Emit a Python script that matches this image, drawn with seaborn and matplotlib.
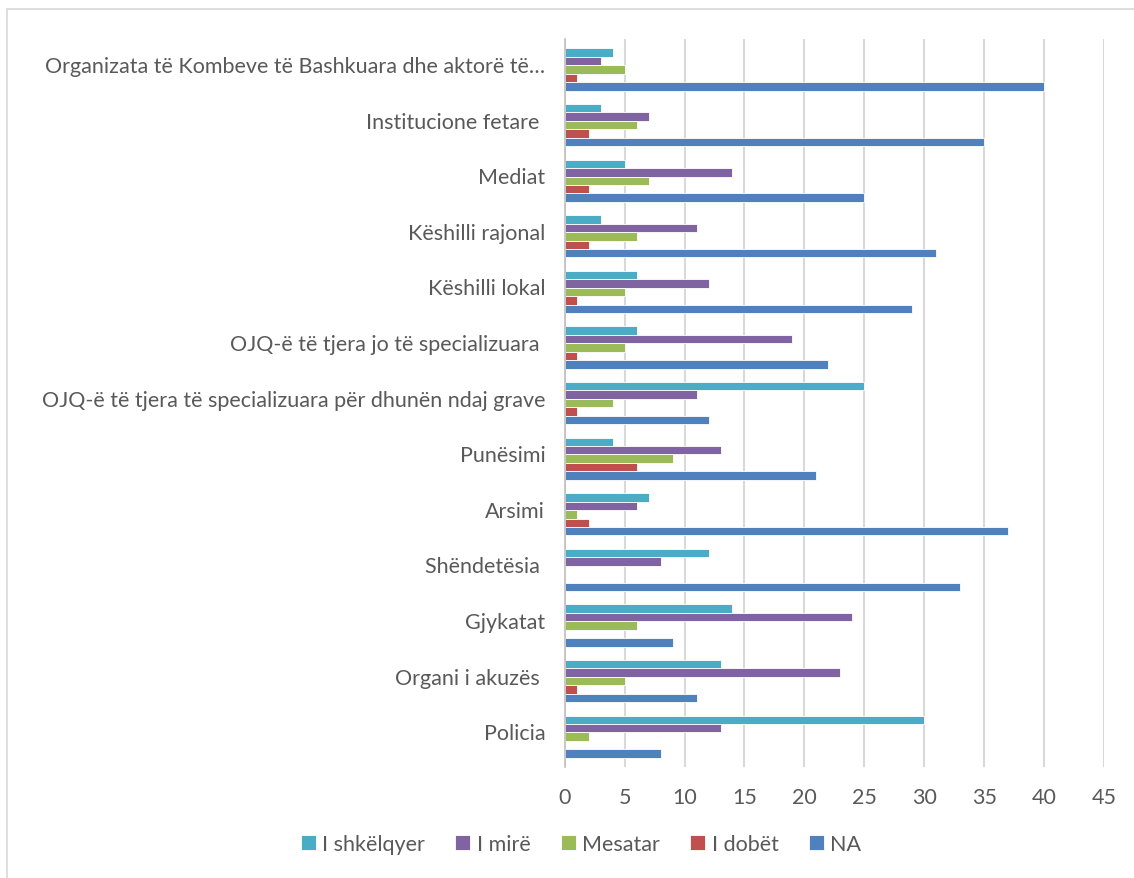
import pandas as pd
import matplotlib
matplotlib.use("Agg")
import matplotlib.pyplot as plt
import matplotlib.transforms as mtransforms
from matplotlib.patches import Rectangle
import seaborn as sns

# Categories (top to bottom) and ratings
categories = [
    "Organizata të Kombeve të Bashkuara dhe aktorë të…",
    "Institucione fetare ",
    "Mediat",
    "Këshilli rajonal",
    "Këshilli lokal",
    "OJQ-ë të tjera jo të specializuara ",
    "OJQ-ë të tjera të specializuara për dhunën ndaj grave",
    "Punësimi",
    "Arsimi",
    "Shëndetësia ",
    "Gjykatat",
    "Organi i akuzës ",
    "Policia",
]
ratings = ["I shkëlqyer", "I mirë", "Mesatar", "I dobët", "NA"]

i_shkelqyer = [4, 3, 5, 3, 6, 6, 25, 4, 7, 12, 14, 13, 30]
i_mire = [3, 7, 14, 11, 12, 19, 11, 13, 6, 8, 24, 23, 13]
mesatar = [5, 6, 7, 6, 5, 5, 4, 9, 1, 0, 6, 5, 2]
i_dobet = [1, 2, 2, 2, 1, 1, 1, 6, 2, 0, 0, 1, 0]
na = [40, 35, 25, 31, 29, 22, 12, 21, 37, 33, 9, 11, 8]

colors = ["#4BACC6", "#8064A2", "#9BBB59", "#C0504D", "#4F81BD"]

# Long format table for seaborn
series = [i_shkelqyer, i_mire, mesatar, i_dobet, na]
rows = []
for rating, vals in zip(ratings, series):
    for cat, v in zip(categories, vals):
        rows.append({"Kategoria": cat, "Vlerësimi": rating, "Vlera": v})
df = pd.DataFrame(rows)

sns.set_style("white")
plt.rcParams["font.family"] = ["Lato", "DejaVu Sans"]

fig = plt.figure(figsize=(11.34, 8.79), dpi=100)
ax = fig.add_axes([0.498, 0.126, 0.4755, 0.8285])

sns.barplot(data=df, y="Kategoria", x="Vlera", hue="Vlerësimi",
            order=categories, hue_order=ratings, palette=colors,
            saturation=1, orient="h", width=0.76, edgecolor="white",
            linewidth=0.6, errorbar=None, ax=ax)

ax.set_xlim(0, 45)
ax.set_ylim(12.55, -0.55)
ax.set_xticks(range(0, 46, 5))
ax.xaxis.grid(True, color="#D9D9D9", linewidth=1.5)
ax.set_axisbelow(True)
ax.set_xlabel("")
ax.set_ylabel("")
for s in ["top", "right", "bottom"]:
    ax.spines[s].set_visible(False)
ax.spines["left"].set_color("#BFBFBF")
ax.spines["left"].set_linewidth(1.2)
ax.tick_params(axis="x", colors="#595959", labelsize=15.5, length=5,
               color="#D9D9D9", width=1.5, pad=9)
ax.tick_params(axis="y", colors="#595959", labelsize=15.5, length=0, pad=14)

# nudge category labels up a little, like the original
shift = mtransforms.ScaledTranslation(0, 4 / 72, fig.dpi_scale_trans)
for lbl in ax.get_yticklabels():
    lbl.set_va("center_baseline")
    lbl.set_transform(lbl.get_transform() + shift)

ax.legend(loc="upper center", bbox_to_anchor=(0.03, -0.065), ncol=5,
          frameon=False, fontsize=15.5, handlelength=0.7, handleheight=0.7,
          handletextpad=0.3, columnspacing=1.4, labelcolor="#595959")

fig.patches.append(Rectangle((0.006, -0.01), 1.1, 0.999, transform=fig.transFigure,
                             fill=False, edgecolor="#D9D9D9", linewidth=1.2))

fig.savefig("out.png", dpi=100)
